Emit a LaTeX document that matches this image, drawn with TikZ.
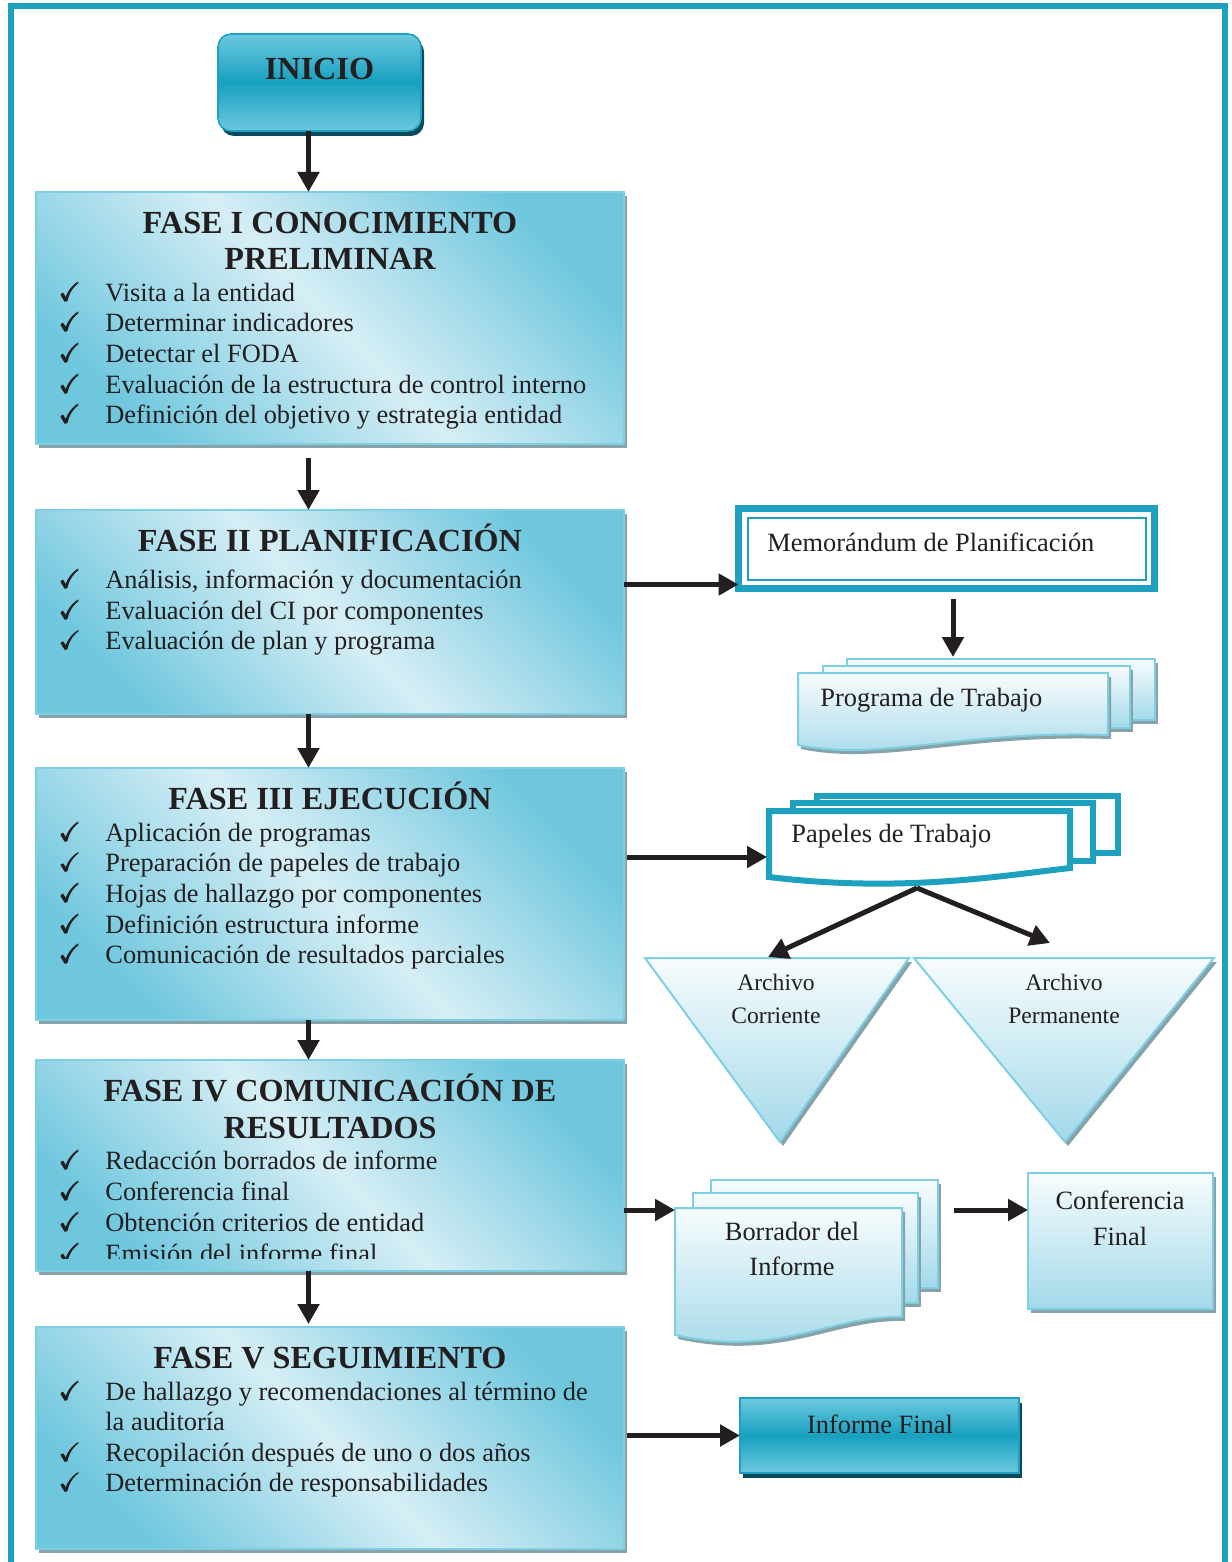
\documentclass[tikz,border=0pt]{standalone}
\usepackage{amsmath}
\usepackage{amssymb}
\usepackage{fontspec}
\setmainfont{Liberation Serif}
\usetikzlibrary{arrows.meta}

\definecolor{marco}{HTML}{1DA1BF}
\definecolor{bordeclaro}{HTML}{7ECFE3}
\definecolor{faseoscuro}{HTML}{6FC7DE}
\definecolor{faseclaro}{HTML}{D6EEF5}
\definecolor{sombragris}{HTML}{87A3A9}
\definecolor{sombraoscura}{HTML}{0B4A5A}
\definecolor{cajaoscuro}{HTML}{17A0C0}
\definecolor{cajaclaro}{HTML}{6DC8DE}
\definecolor{docblanco}{HTML}{F7FCFD}
\definecolor{docazul}{HTML}{A3D9E9}
\definecolor{negro}{HTML}{231F20}

\newcommand{\chk}{\makebox[23pt][l]{$\pmb{\checkmark}$}}

\tikzset{
	flecha/.style={line width=2.5pt, color=negro, -{Triangle[length=10pt,width=10.5pt]}},
	sombra/.style={preaction={fill=sombragris, transform canvas={shift={(1.5pt,-2pt)}}}},
	sombrafuerte/.style={preaction={fill=sombraoscura, transform canvas={shift={(1.5pt,-2.5pt)}}}},
	fase/.style={draw=bordeclaro, line width=1pt, sombra, top color=faseoscuro, bottom color=faseoscuro, middle color=faseclaro, shading angle=-45, inner sep=0, outer sep=0, minimum width=294pt},
	caja/.style={draw=marco, line width=0.8pt, sombrafuerte, top color=cajaclaro, bottom color=cajaclaro, middle color=cajaoscuro, inner sep=0, outer sep=0},
	hoja/.style={draw=bordeclaro, line width=1pt, sombra, top color=docblanco, bottom color=docazul},
	papel/.style={draw=marco, line width=3pt, fill=white},
	titulo/.style={anchor=base, inner sep=0, text=negro, font=\bfseries\fontsize{16.1}{18.5}\selectfont},
	punto/.style={anchor=base west, inner sep=0, text=negro, font=\fontsize{13.2}{15.4}\selectfont},
	etiqueta/.style={anchor=base, inner sep=0, text=negro, font=\fontsize{13.2}{16}\selectfont}
}

\begin{document}
\begin{tikzpicture}[x=0.5pt,y=-0.5pt]
		\useasboundingbox (0,0) rectangle (1231,1562);
		\draw[marco, line width=3pt] (10.5,1575) -- (10.5,6.5) -- (1224.5,6.5) -- (1224.5,1575);
		
		% columna de fases
		\node[caja, rounded corners=6.5pt, minimum width=101.5pt, minimum height=48.5pt] (inicio) at (319.5,82.5) {};
		\node[fase, minimum height=126pt] (f1) at (329.5,318) {};
		\node[fase, minimum height=102pt] (f2) at (329.5,612) {};
		\node[fase, minimum height=126pt] (f3) at (329.5,894) {};
		\node[fase, minimum height=105.5pt] (f4) at (329.5,1165.5) {};
		\node[fase, minimum height=111pt] (f5) at (329.5,1438) {};
		
		\node[titulo] (tini) at (319.5,80) {INICIO};
		
		\node[titulo] (t1a) at (330,233.5) {FASE I CONOCIMIENTO};
		\node[titulo] (t1b) at (330,269.5) {PRELIMINAR};
		\node[punto] (p11) at (59,301) {\chk Visita a la entidad};
		\node[punto] (p12) at (59,331.5) {\chk Determinar indicadores};
		\node[punto] (p13) at (59,362) {\chk Detectar el FODA};
		\node[punto] (p14) at (59,393) {\chk Evaluación de la estructura de control interno};
		\node[punto] (p15) at (59,423.5) {\chk Definición del objetivo y estrategia entidad};
		
		\node[titulo] (t2) at (330,551.7) {FASE II PLANIFICACIÓN};
		\node[punto] (p21) at (59,588.5) {\chk Análisis, información y documentación};
		\node[punto] (p22) at (59,619) {\chk Evaluación del CI por componentes};
		\node[punto] (p23) at (59,649.7) {\chk Evaluación de plan y programa};
		
		\node[titulo] (t3) at (330,809.3) {FASE III EJECUCIÓN};
		\node[punto] (p31) at (59,841) {\chk Aplicación de programas};
		\node[punto] (p32) at (59,871.7) {\chk Preparación de papeles de trabajo};
		\node[punto] (p33) at (59,902.3) {\chk Hojas de hallazgo por componentes};
		\node[punto] (p34) at (59,933) {\chk Definición estructura informe};
		\node[punto] (p35) at (59,963.5) {\chk Comunicación de resultados parciales};
		
		\node[titulo] (t4a) at (330,1101.7) {FASE IV COMUNICACIÓN DE};
		\node[titulo] (t4b) at (330,1138.3) {RESULTADOS};
		\node[punto] (p41) at (59,1169.3) {\chk Redacción borrados de informe};
		\node[punto] (p42) at (59,1200) {\chk Conferencia final};
		\node[punto] (p43) at (59,1231) {\chk Obtención criterios de entidad};
		\begin{scope}
			\clip (f4.north west) rectangle ([yshift=6.5pt]f4.south east);
			\node[punto] (p44) at (59,1262) {\chk Emisión del informe final};
		\end{scope}
		
		\node[titulo] (t5) at (330,1368.3) {FASE V SEGUIMIENTO};
		\node[punto] (p51) at (59,1400) {\chk De hallazgo y recomendaciones al término de};
		\node[punto] (p52) at (105,1430.5) {la auditoría};
		\node[punto] (p53) at (59,1461.7) {\chk Recopilación después de uno o dos años};
		\node[punto] (p54) at (59,1491.7) {\chk Determinación de responsabilidades};
		
		\coordinate (eje) at (308.5,0);
		\draw[flecha] (eje |- inicio.south) -- (eje |- f1.north);
		\draw[flecha, shorten <=7pt] (eje |- f1.south) -- (eje |- f2.north);
		\draw[flecha] (eje |- f2.south) -- (eje |- f3.north);
		\draw[flecha] (eje |- f3.south) -- (eje |- f4.north);
		\draw[flecha, shorten >=1.5pt] (eje |- f4.south) -- (eje |- f5.north);
		
		% memorandum y programa
		\node[draw=marco, line width=3.5pt, fill=white, inner sep=0, outer sep=0, minimum width=208pt, minimum height=40pt] (memo) at (946.5,548.5) {};
		\draw[marco, line width=1pt] ([shift={(4.5pt,-4.5pt)}]memo.north west) rectangle ([shift={(-4.5pt,4.5pt)}]memo.south east);
		\node[etiqueta, anchor=base west] (memot) at (767,551.7) {Memorándum de Planificación};
		\draw[flecha] ([yshift=2pt]memo.south west -| f2.east) -- ([yshift=2pt]memo.south west);
		
		\draw[hoja] (847,659) rectangle (1155,720);
		\draw[hoja] (823,666) rectangle (1130,728);
		\draw[hoja] (798,673) -- (1108,673) -- (1108,735) .. controls (960,730) and (880,762) .. (798,745) -- cycle;
		\node[etiqueta, anchor=base west] (prog) at (820,706.7) {Programa de Trabajo};
		\coordinate (progtop) at (953,657);
		\draw[flecha, shorten <=5pt] (memo.south -| progtop) -- (progtop);
		
		% papeles de trabajo y archivos
		\draw[papel] (817,796) rectangle (1118,853);
		\draw[papel] (793,803) rectangle (1093,861);
		\draw[papel] (769,811) -- (1070,811) -- (1070,868) .. controls (1000,876) and (900,893) .. (769,877) -- cycle;
		\node[etiqueta, anchor=base west] (pap) at (791,842.7) {Papeles de Trabajo};
		\coordinate (papizq) at (767,857);
		\draw[flecha, shorten <=1.5pt] (f3.east |- papizq) -- (papizq);
		
		\draw[hoja] (645,958) -- (909,958) -- (780,1142) -- cycle;
		\draw[hoja] (914,958) -- (1214,958) -- (1065,1142) -- cycle;
		\node[etiqueta, font=\fontsize{11.8}{15}\selectfont] (corr1) at (776,990.7) {Archivo};
		\node[etiqueta, font=\fontsize{11.8}{15}\selectfont] (corr2) at (776,1023.3) {Corriente};
		\node[etiqueta, font=\fontsize{11.8}{15}\selectfont] (perm1) at (1064,990.7) {Archivo};
		\node[etiqueta, font=\fontsize{11.8}{15}\selectfont] (perm2) at (1064,1023.3) {Permanente};
		\coordinate (papbase) at (917,888);
		\coordinate (corrtip) at (768,957);
		\coordinate (permtip) at (1050,943);
		\draw[flecha] (papbase) -- (corrtip);
		\draw[flecha] (papbase) -- (permtip);
		
		% borrador y conferencia
		\draw[hoja] (711,1180) rectangle (938,1288);
		\draw[hoja] (693,1193) rectangle (918,1303);
		\draw[hoja] (675,1208) -- (902,1208) -- (902,1317) .. controls (830,1315) and (780,1358) .. (675,1335) -- cycle;
		\node[etiqueta] (bor1) at (792,1240) {Borrador del};
		\node[etiqueta] (bor2) at (792,1275.7) {Informe};
		\coordinate (borizq) at (675,1210);
		\coordinate (border) at (954,1210);
		\draw[flecha] (f4.east |- borizq) -- (borizq);
		
		\node[hoja, inner sep=0, outer sep=0, minimum width=92.5pt, minimum height=68pt] (conf) at (1120.5,1241) {};
		\node[etiqueta] (conf1) at (1120,1209.3) {Conferencia};
		\node[etiqueta] (conf2) at (1120,1245) {Final};
		\draw[flecha] (border) -- (conf.west |- border);
		
		% informe final
		\node[caja, minimum width=139.5pt, minimum height=37.5pt] (inffin) at (879.5,1435.5) {};
		\node[etiqueta] (inffint) at (880,1433.3) {Informe Final};
		\draw[flecha, shorten <=1.5pt] (f5.east |- inffin.west) -- (inffin.west);
		
\end{tikzpicture}
\end{document}
